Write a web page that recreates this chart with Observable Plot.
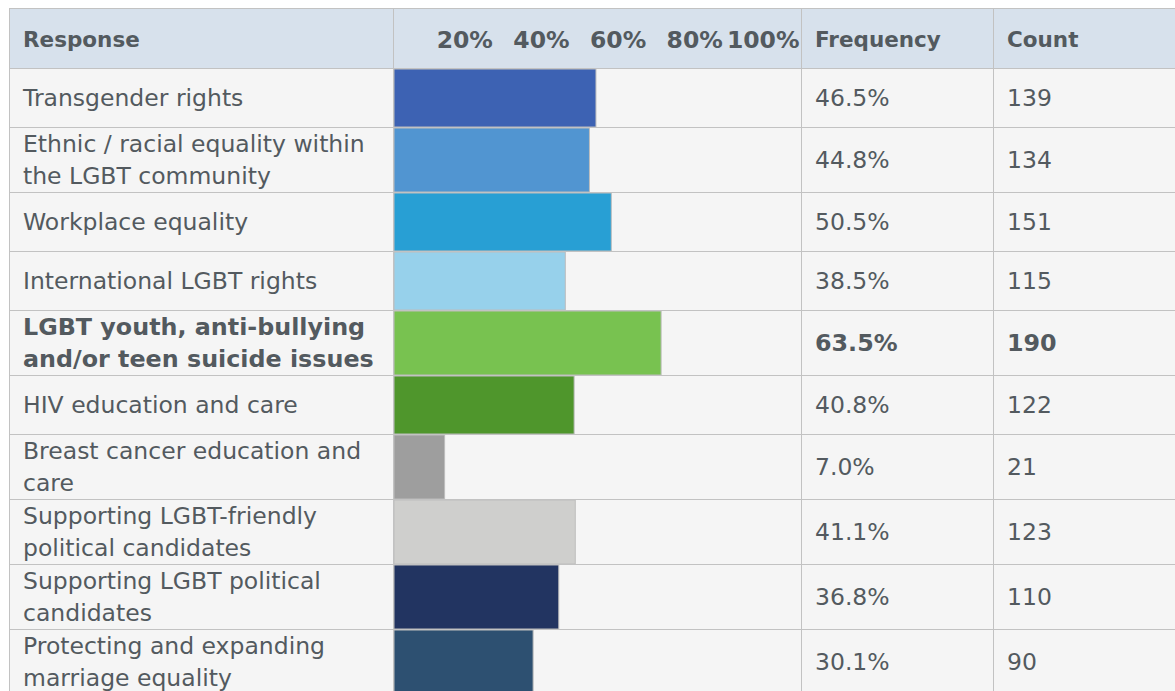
<!DOCTYPE html>
<html><head><meta charset="utf-8">
<script src="https://cdn.jsdelivr.net/npm/d3@7"></script>
<script src="https://cdn.jsdelivr.net/npm/@observablehq/plot@0.6"></script>
<style>
html,body{margin:0;padding:0;background:#fff;overflow:hidden;width:1175px;height:691px;}
#wrap{position:absolute;left:9px;top:8px;width:1400px;}
table{border-collapse:collapse;table-layout:fixed;font-family:"DejaVu Sans",Verdana,sans-serif;color:#535a5f;background:#f5f5f5;}
td,th{border:1px solid #c2c2c2;padding:0 0 0 13px;vertical-align:middle;text-align:left;overflow:hidden;}
th{background:#d7e1ec;height:57px;font-size:21.5px;font-weight:bold;padding-top:2px;}
td{height:58px;font-size:23.5px;line-height:32px;white-space:pre-line;}
td.bar,th.bar{padding:0;}
td.bar svg,th.bar svg{display:block;}
tr.hl td{font-weight:bold;font-size:23.8px;}
</style></head>
<body><div id="wrap"></div>
<script>
const responses = [
  "Transgender rights",
  "Ethnic / racial equality within\nthe LGBT community",
  "Workplace equality",
  "International LGBT rights",
  "LGBT youth, anti-bullying\nand/or teen suicide issues",
  "HIV education and care",
  "Breast cancer education and\ncare",
  "Supporting LGBT-friendly\npolitical candidates",
  "Supporting LGBT political\ncandidates",
  "Protecting and expanding\nmarriage equality"
];
const frequency = [46.5, 44.8, 50.5, 38.5, 63.5, 40.8, 7.0, 41.1, 36.8, 30.1];
const counts = [139, 134, 151, 115, 190, 122, 21, 123, 110, 90];
const barColors = ["#3d62b3", "#5195d1", "#289fd4", "#97d1eb", "#78c250", "#4f962c", "#9e9e9e", "#cfcfcd", "#223461", "#2d5071"];
const highlighted = [4];
const headers = ["Response", "", "Frequency", "Count"];
const tickValues = [20, 40, 60, 80, 100];

const xDomain = [-6.2, 100];
const colWidths = [384, 408, 192, 192];
const textColor = "#535a5f";

const table = document.createElement("table");
table.style.width = d3.sum(colWidths) + "px";
const cg = document.createElement("colgroup");
colWidths.forEach(w => { const c = document.createElement("col"); c.style.width = w + "px"; cg.appendChild(c); });
table.appendChild(cg);
const thead = document.createElement("tr");
headers.forEach((h, i) => {
  const th = document.createElement("th");
  th.textContent = h;
  if (i === 1) th.className = "bar";
  thead.appendChild(th);
});
table.appendChild(thead);
const barCells = [];
responses.forEach((r, i) => {
  const tr = document.createElement("tr");
  if (highlighted.includes(i)) tr.className = "hl";
  const t1 = document.createElement("td"); t1.textContent = r;
  const t2 = document.createElement("td"); t2.className = "bar";
  const t3 = document.createElement("td"); t3.textContent = frequency[i].toFixed(1) + "%";
  const t4 = document.createElement("td"); t4.textContent = counts[i];
  [t1, t2, t3, t4].forEach(t => tr.appendChild(t));
  table.appendChild(tr);
  barCells.push(t2);
});
document.getElementById("wrap").appendChild(table);

// header tick labels
const thBar = thead.children[1];
thBar.appendChild(Plot.plot({
  width: thBar.clientWidth, height: thBar.clientHeight,
  margin: 0,
  style: {background: "transparent", fontFamily: "DejaVu Sans"},
  x: {domain: xDomain, axis: null},
  marks: [
    Plot.text(tickValues, {x: d => d, text: d => d + "%", textAnchor: "end", dx: -2, dy: 1,
      fontSize: 23.5, fontWeight: "bold", fill: textColor, frameAnchor: "middle"})
  ]
}));

// bars
const rows = responses.map((r, i) => ({response: r, pct: frequency[i], color: barColors[i]}));
barCells.forEach((cell, i) => {
  cell.appendChild(Plot.plot({
    width: cell.clientWidth, height: cell.clientHeight,
    margin: 0,
    style: {background: "transparent"},
    x: {domain: xDomain, axis: null},
    marks: [
      Plot.barX([rows[i]], {x1: () => xDomain[0], x2: "pct", fill: "color", stroke: "#bdbdbd", strokeWidth: 1})
    ]
  }));
});
</script>
</body></html>
